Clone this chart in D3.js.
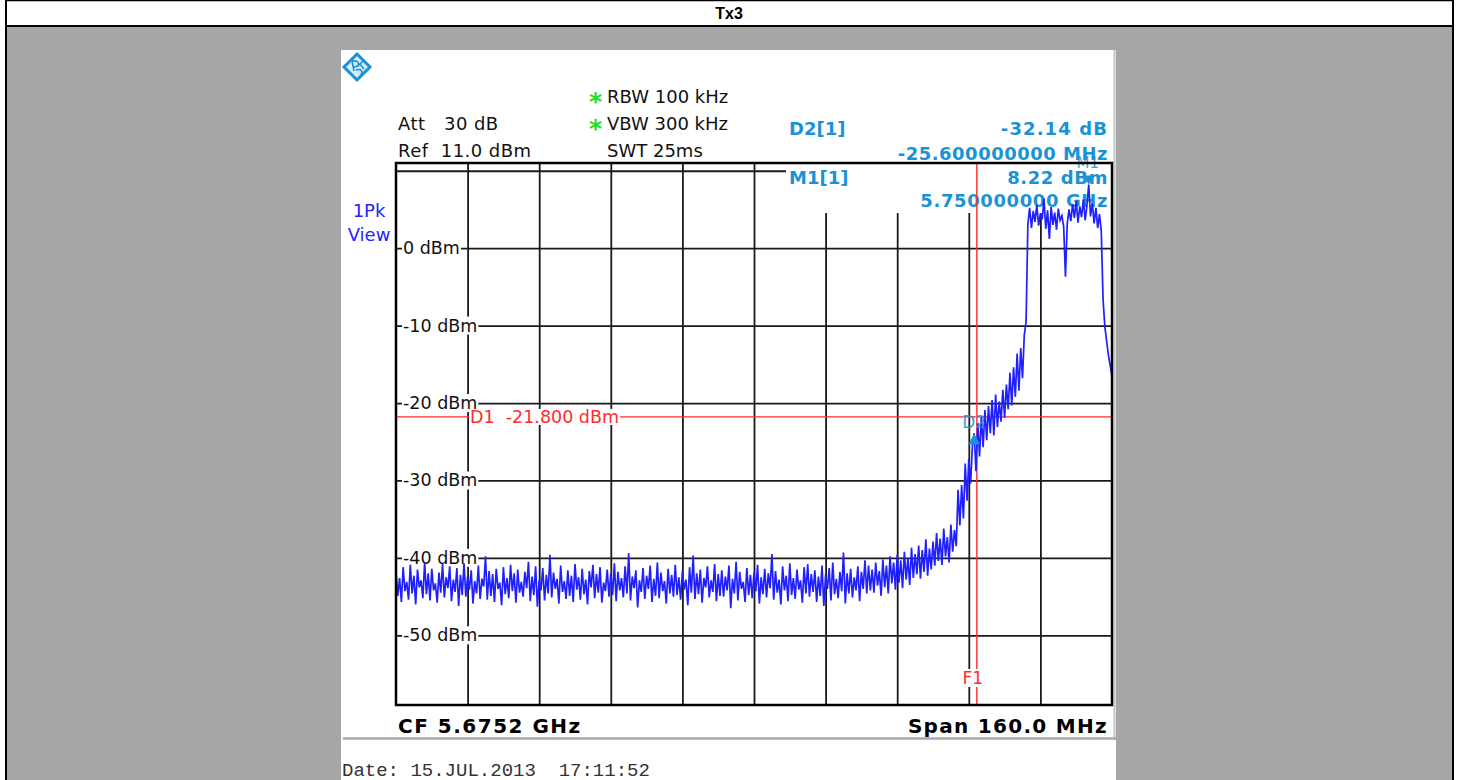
<!DOCTYPE html>
<html>
<head>
<meta charset="utf-8">
<script src="https://cdn.jsdelivr.net/npm/d3@7"></script>
<style>
  html, body { margin: 0; padding: 0; background: #fff; }
  svg { display: block; }
  text { white-space: pre; }
</style>
</head>
<body>
<svg id="chart" width="1459" height="780"></svg>
<script>
// ---------------- DATA ----------------
const pageTitle = "Tx3";
const centerFreqGHz = 5.6752;
const spanMHz = 160.0;
const sweepPoints = 401;           // 0.4 MHz per point
const refLevel = 11.0;             // dBm at the top of the screen
const bottomLevel = -59.0;         // dBm at the bottom of the screen
const gridLevels = [10, 0, -10, -20, -30, -40, -50];
const levelLabels = ["0 dBm", "-10 dBm", "-20 dBm", "-30 dBm", "-40 dBm", "-50 dBm"];
const labelLevels = [0, -10, -20, -30, -40, -50];
const freqDivisions = [1, 2, 3, 4, 5, 6, 7, 8, 9];   // vertical division lines (16 MHz each)

const settingsLeft = ["Att   30 dB", "Ref  11.0 dBm"];
const settingsMid = [["*", "RBW 100 kHz"], ["*", "VBW 300 kHz"], ["", "SWT 25ms"]];
const markerRows = [["D2[1]", "-32.14 dB"], ["", "-25.600000000 MHz"], ["M1[1]", "8.22 dBm"], ["", "5.750000000 GHz"]];
const traceMode = ["1Pk", "View"];
const footerLeft = "CF 5.6752 GHz";
const footerRight = "Span 160.0 MHz";
const dateText = "Date: 15.JUL.2013  17:11:52";

const displayLineD1 = -21.8;   // dBm
const freqLineF1 = 5.725;      // GHz
const markerM1 = { name: "M1", freq: 5.750, level: 8.22 };
const markerD2 = { name: "D2", freq: 5.7244, level: -23.92 };

// trace levels (dBm), one per sweep point
const traceLevels = [
 -41.8,-44.9,-42.6,-45.7,-41.2,-44.3,-43.1,-45.4,-40.9,-44.6,-42.3,-46.0,-41.5,-43.8,-42.9,-45.2,-40.6,-44.7,-42.0,-45.5,
 -41.4,-44.2,-43.3,-45.8,-41.9,-44.5,-40.8,-45.1,-42.5,-43.9,-41.1,-45.6,-42.8,-44.4,-41.3,-46.2,-42.2,-44.8,-40.7,-45.0,
 -42.4,-44.1,-41.6,-45.9,-43.0,-44.6,-41.0,-45.3,-42.7,-43.7,-39.8,-45.4,-41.7,-44.9,-42.1,-45.7,-41.4,-44.0,-43.2,-46.1,
 -41.2,-44.7,-42.6,-45.2,-40.9,-44.3,-42.0,-45.8,-41.5,-44.5,-43.1,-45.0,-41.8,-43.9,-40.5,-45.6,-42.4,-44.8,-41.1,-46.3,
 -42.9,-44.2,-41.3,-45.5,-42.2,-44.6,-39.6,-45.1,-41.9,-44.0,-42.7,-45.9,-41.0,-44.4,-43.0,-45.3,-41.6,-44.9,-42.3,-45.7,
 -40.8,-44.1,-42.5,-45.4,-41.4,-44.7,-42.8,-46.0,-41.7,-43.8,-40.9,-45.2,-42.1,-44.5,-41.2,-45.8,-43.2,-44.3,-41.5,-45.0,
 -42.0,-44.8,-40.7,-45.6,-41.8,-44.2,-42.6,-45.1,-41.1,-44.6,-39.4,-45.5,-42.4,-43.9,-41.6,-46.4,-42.9,-44.4,-41.3,-45.3,
 -42.3,-44.0,-41.0,-45.7,-42.7,-44.9,-40.6,-45.2,-41.9,-44.3,-43.0,-45.9,-41.4,-44.6,-42.2,-45.0,-40.9,-44.8,-42.5,-45.4,
 -41.7,-44.1,-42.8,-46.1,-41.2,-44.5,-39.7,-45.3,-42.0,-44.7,-41.5,-45.8,-42.6,-43.8,-41.1,-45.1,-42.9,-44.4,-40.8,-45.6,
 -42.1,-44.9,-41.6,-45.0,-42.4,-44.2,-41.0,-46.5,-42.7,-44.6,-40.5,-45.5,-41.8,-44.0,-43.1,-45.7,-41.3,-44.8,-42.2,-45.2,
 -41.9,-44.3,-40.9,-45.9,-42.5,-44.7,-41.4,-45.1,-42.0,-43.9,-39.5,-45.4,-41.7,-44.5,-42.8,-46.0,-41.1,-44.2,-42.3,-45.6,
 -40.7,-44.8,-42.6,-45.3,-41.5,-44.1,-42.9,-45.8,-41.2,-44.6,-40.8,-45.0,-42.1,-44.4,-41.6,-45.7,-42.4,-44.9,-41.0,-46.2,
 -42.2,-44.0,-41.3,-45.5,-40.6,-44.7,-42.7,-45.2,-41.8,-44.3,-39.3,-45.9,-42.0,-44.6,-41.4,-45.1,-42.5,-44.2,-41.1,-45.6,
 -41.8,-44.0,-40.3,-44.6,-41.0,-44.2,-41.5,-44.5,-40.6,-43.6,-41.7,-44.9,-40.2,-43.8,-41.0,-44.6,-39.8,-43.3,-40.6,-44.1,
 -39.6,-43.2,-40.3,-43.9,-39.2,-42.8,-40.0,-43.5,-38.7,-42.6,-39.5,-42.1,-38.4,-42.7,-39.0,-41.8,-37.6,-42.3,-38.8,-41.5,
 -37.9,-41.0,-36.8,-40.4,-37.5,-40.9,-36.2,-39.8,-37.3,-40.6,-35.7,-39.2,-36.4,-38.5,-31.2,-35.8,-30.6,-34.9,-27.8,-32.6,
 -27.2,-30.4,-25.6,-23.9,-28.8,-22.6,-26.9,-21.8,-25.7,-20.9,-24.8,-20.4,-23.9,-19.6,-24.2,-18.9,-23.1,-19.8,-22.4,-18.3,
 -21.9,-17.6,-20.8,-16.1,-20.3,-15.4,-19.2,-13.6,-18.4,-12.9,-16.8,-11.2,-9.5,
 3.1,5.2,2.6,4.8,3.4,5.6,2.9,4.5,3.7,6.4,2.5,4.9,1.2,5.3,3.0,4.6,2.4,5.1,3.6,4.2,2.8,-3.7,
 3.2,5.0,3.5,5.7,3.9,6.1,3.3,5.4,4.0,6.3,3.6,5.5,8.22,4.1,5.8,3.2,5.2,2.6,4.4,2.2,
 -6.6,-10.1,-12.0,-13.8,-15.2,-16.6
];

// ---------------- DRAWING ----------------
const svg = d3.select("#chart");
const BLUE_MK = "#1b92d6";
const RED = "#ff2b2b";
const TRACE = "#1f1fff";
const FONT = "'DejaVu Sans', Verdana, sans-serif";

const startGHz = centerFreqGHz - spanMHz / 2000;
const stopGHz = centerFreqGHz + spanMHz / 2000;

const plot = { left: 396, right: 1112, top: 163, bottom: 705 };
const x = d3.scaleLinear().domain([startGHz, stopGHz]).range([plot.left, plot.right]);
const y = d3.scaleLinear().domain([refLevel, bottomLevel]).range([plot.top, plot.bottom]);
const stepGHz = (stopGHz - startGHz) / (sweepPoints - 1);
const trace = traceLevels.map((v, i) => ({ f: startGHz + i * stepGHz, v }));

// page frame
svg.append("rect").attr("x", 0).attr("y", 0).attr("width", 1459).attr("height", 780).attr("fill", "#fff");
svg.append("rect").attr("x", 6).attr("y", 26).attr("width", 1447).attr("height", 760).attr("fill", "#a6a6a6");
svg.append("line").attr("x1", 5).attr("x2", 1454).attr("y1", 0.5).attr("y2", 0.5).attr("stroke", "#000").attr("stroke-width", 1.5);
svg.append("line").attr("x1", 5).attr("x2", 1454).attr("y1", 26).attr("y2", 26).attr("stroke", "#000").attr("stroke-width", 2);
svg.append("line").attr("x1", 6).attr("x2", 6).attr("y1", 0).attr("y2", 780).attr("stroke", "#000").attr("stroke-width", 2);
svg.append("line").attr("x1", 1453).attr("x2", 1453).attr("y1", 0).attr("y2", 780).attr("stroke", "#000").attr("stroke-width", 2);
svg.append("text").attr("x", 729).attr("y", 19).attr("text-anchor", "middle")
  .attr("font-family", "'Liberation Sans', Arial, sans-serif").attr("font-weight", "bold").attr("font-size", 16)
  .text(pageTitle);

// instrument screenshot panel
svg.append("rect").attr("x", 341).attr("y", 50).attr("width", 775).attr("height", 730).attr("fill", "#fff");
svg.append("line").attr("x1", 1114.5).attr("x2", 1114.5).attr("y1", 50).attr("y2", 740).attr("stroke", "#c4c4c4").attr("stroke-width", 2);
svg.append("line").attr("x1", 343).attr("x2", 1116).attr("y1", 738.5).attr("y2", 738.5).attr("stroke", "#a9a9a9").attr("stroke-width", 2.5);

// logo
const logo = svg.append("g").attr("transform", "translate(357,67)");
logo.append("path").attr("d", "M0,-13 L13,0 L0,13 L-13,0 Z").attr("fill", "#d8ecf8").attr("stroke", BLUE_MK).attr("stroke-width", 3);
logo.append("path").attr("d", "M-5,-6 L-3,4 M-5,-6 Q3,-7 1,-1 L-3,0 M1,-1 L6,-6 M-1,3 Q7,1 4,8 M3,-3 L7,2")
  .attr("fill", "none").attr("stroke", BLUE_MK).attr("stroke-width", 1.6);

// settings text
const hdr = svg.append("g").attr("font-family", FONT).attr("font-size", 18).attr("fill", "#111");
settingsLeft.forEach((t, i) => hdr.append("text").attr("x", 398).attr("y", 130 + i * 27).attr("letter-spacing", 0.45).text(t));
settingsMid.forEach((d, i) => {
  if (d[0]) hdr.append("text").attr("x", 589).attr("y", 110 + i * 27).attr("fill", "#22dd22")
    .attr("font-weight", "bold").attr("font-size", 25).text(d[0]);
  hdr.append("text").attr("x", 607).attr("y", 103 + i * 27).text(d[1]);
});
traceMode.forEach((t, i) => svg.append("text").attr("x", 369).attr("y", 217 + i * 24)
  .attr("text-anchor", "middle").attr("font-family", FONT).attr("font-size", 18).attr("fill", "#2323ff").text(t));

// marker info
const mkY = [135, 160, 184, 207];
const mkSpacing = [1.1, 0.5, 0.6, 0.6];
markerRows.slice(0, 2).forEach((d, i) => {
  if (d[0]) svg.append("text").attr("x", 789).attr("y", mkY[i]).attr("font-family", FONT)
    .attr("font-weight", "bold").attr("font-size", 18).attr("fill", BLUE_MK).text(d[0]);
  svg.append("text").attr("x", 1108).attr("y", mkY[i]).attr("text-anchor", "end").attr("font-family", FONT)
    .attr("font-weight", "bold").attr("font-size", 18).attr("letter-spacing", mkSpacing[i]).attr("fill", BLUE_MK).text(d[1]);
});

// grid
const plotH = plot.bottom - plot.top, plotW = plot.right - plot.left;
const gridF = freqDivisions.map(k => startGHz + k * (stopGHz - startGHz) / 10);
const gx = svg.append("g").attr("transform", `translate(0,${plot.bottom})`)
  .call(d3.axisBottom(x).tickValues(gridF).tickSize(-plotH).tickFormat(""));
gx.select(".domain").remove();
gx.selectAll("line").attr("stroke", "#1a1a1a").attr("stroke-width", 1.8);
const gy = svg.append("g").attr("transform", `translate(${plot.left},0)`)
  .call(d3.axisLeft(y).tickValues(gridLevels).tickSize(-plotW).tickFormat(""));
gy.select(".domain").remove();
gy.selectAll("line").attr("stroke", "#1a1a1a").attr("stroke-width", 1.8);

// marker info box covers grid
svg.append("rect").attr("x", 786).attr("y", plot.top).attr("width", plot.right - 786).attr("height", 213 - plot.top).attr("fill", "#fff");
markerRows.slice(2).forEach((d, i) => {
  if (d[0]) svg.append("text").attr("x", 789).attr("y", mkY[2 + i]).attr("font-family", FONT)
    .attr("font-weight", "bold").attr("font-size", 18).attr("fill", BLUE_MK).text(d[0]);
  svg.append("text").attr("x", 1108).attr("y", mkY[2 + i]).attr("text-anchor", "end").attr("font-family", FONT)
    .attr("font-weight", "bold").attr("font-size", 18).attr("letter-spacing", mkSpacing[2 + i]).attr("fill", BLUE_MK).text(d[1]);
});

// level labels
labelLevels.forEach((lv, i) => {
  const g = svg.append("g");
  const t = g.append("text").attr("x", 403).attr("y", y(lv) + 6).attr("font-family", FONT)
    .attr("font-size", 17.5).attr("fill", "#111").text(levelLabels[i]);
  const bb = t.node().getBBox();
  g.insert("rect", "text").attr("x", bb.x - 1).attr("y", bb.y + 1).attr("width", bb.width + 2).attr("height", bb.height - 2).attr("fill", "#fff");
});

// display line D1
svg.append("line").attr("x1", plot.left).attr("x2", plot.right).attr("y1", y(displayLineD1)).attr("y2", y(displayLineD1))
  .attr("stroke", RED).attr("stroke-width", 1.3);
{
  const g = svg.append("g");
  const t = g.append("text").attr("x", 470).attr("y", y(displayLineD1) + 6).attr("font-family", FONT)
    .attr("font-size", 17.5).attr("fill", RED).text("D1  " + displayLineD1.toFixed(3) + " dBm");
  const bb = t.node().getBBox();
  g.insert("rect", "text").attr("x", bb.x - 1).attr("y", bb.y + 2).attr("width", bb.width + 2).attr("height", bb.height - 4).attr("fill", "#fff");
}

// frequency line F1
svg.append("line").attr("x1", x(freqLineF1)).attr("x2", x(freqLineF1)).attr("y1", plot.top).attr("y2", plot.bottom)
  .attr("stroke", RED).attr("stroke-width", 1.4);
{
  const g = svg.append("g");
  const t = g.append("text").attr("x", x(freqLineF1) - 4).attr("y", 684).attr("text-anchor", "middle").attr("font-family", FONT)
    .attr("font-size", 17).attr("fill", RED).text("F1");
  const bb = t.node().getBBox();
  g.insert("rect", "text").attr("x", bb.x).attr("y", bb.y + 1).attr("width", bb.width).attr("height", bb.height - 2).attr("fill", "#fff");
}

// trace
svg.append("path").datum(trace)
  .attr("d", d3.line().x(d => x(d.f)).y(d => y(d.v)))
  .attr("fill", "none").attr("stroke", TRACE).attr("stroke-width", 1.7).attr("stroke-linejoin", "miter");

// markers
const m1x = x(markerM1.freq), m1y = y(markerM1.level);
svg.append("path").attr("d", `M${m1x - 5.5},${m1y - 9} L${m1x + 5.5},${m1y - 9} L${m1x},${m1y} Z`).attr("fill", BLUE_MK);
svg.append("text").attr("x", m1x - 1).attr("y", m1y - 17).attr("text-anchor", "middle").attr("font-family", FONT)
  .attr("font-size", 15).attr("fill", BLUE_MK).attr("opacity", 0.85).text(markerM1.name);
const d2x = x(markerD2.freq), d2y = y(markerD2.level);
svg.append("path").attr("d", `M${d2x - 6},${d2y + 11} L${d2x + 6},${d2y + 11} L${d2x},${d2y} Z`).attr("fill", BLUE_MK);
svg.append("text").attr("x", d2x).attr("y", d2y - 5).attr("text-anchor", "middle").attr("font-family", FONT)
  .attr("font-size", 17).attr("fill", BLUE_MK).attr("opacity", 0.85).text(markerD2.name);

// plot frame
svg.append("rect").attr("x", plot.left).attr("y", plot.top).attr("width", plotW).attr("height", plotH)
  .attr("fill", "none").attr("stroke", "#000").attr("stroke-width", 2.5);

// footer
svg.append("text").attr("x", 398).attr("y", 733).attr("font-family", FONT).attr("font-weight", "bold")
  .attr("font-size", 20).attr("letter-spacing", 1.5).attr("fill", "#000").text(footerLeft);
svg.append("text").attr("x", 1108).attr("y", 733).attr("text-anchor", "end").attr("font-family", FONT).attr("font-weight", "bold")
  .attr("font-size", 20).attr("letter-spacing", 1.3).attr("fill", "#000").text(footerRight);
svg.append("text").attr("x", 342).attr("y", 776).attr("font-family", "'Liberation Mono', 'Courier New', monospace")
  .attr("font-size", 19).attr("fill", "#333").text(dateText);
</script>
</body>
</html>
